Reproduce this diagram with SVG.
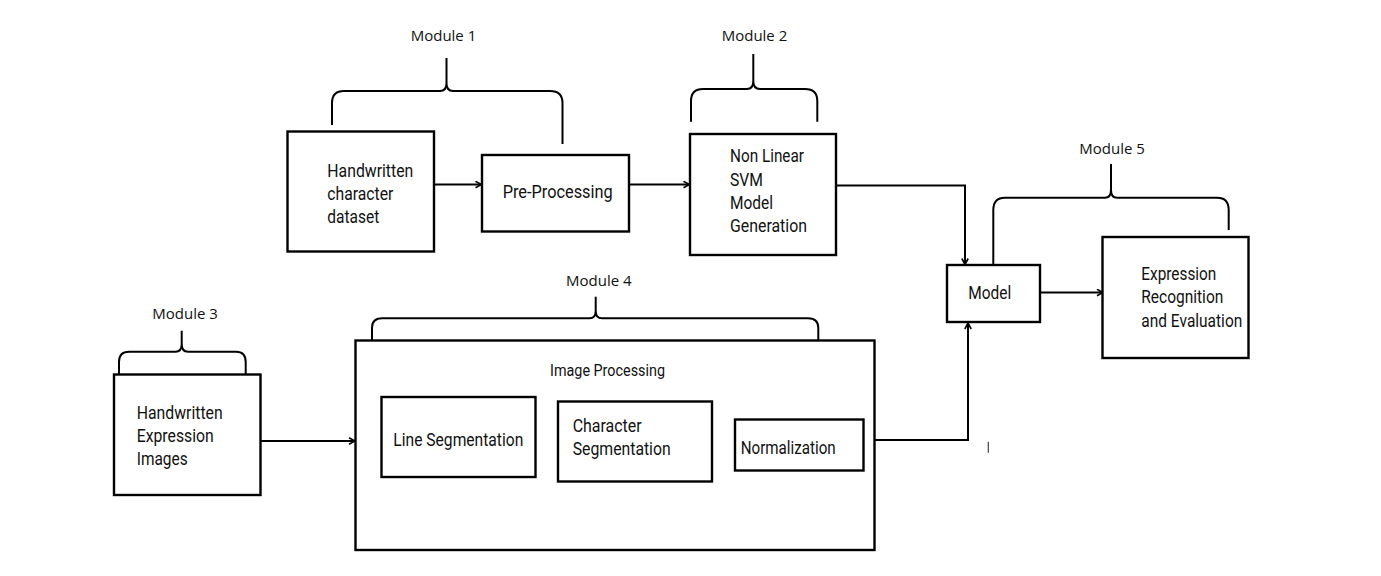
<svg xmlns="http://www.w3.org/2000/svg" width="1381" height="576" viewBox="0 0 1381 576">
<style>
.box{fill:#fff;stroke:#000;stroke-width:2.4}
.t{font-family:Roboto,"Liberation Sans",sans-serif;font-size:19px;fill:#111}
.ts{font-family:Roboto,"Liberation Sans",sans-serif;font-size:16.5px;fill:#111}
.mod{font-family:"Open Sans","Liberation Sans",sans-serif;font-size:15px;fill:#111}
.br{fill:none;stroke:#000;stroke-width:2}
.con{fill:none;stroke:#000;stroke-width:2;marker-end:url(#ah)}
</style>
<defs>
<marker id="ah" viewBox="0 0 8 8" refX="7" refY="4" markerWidth="8" markerHeight="8" markerUnits="userSpaceOnUse" orient="auto">
<path d="M1,0.8 L7,4 L1,7.2" fill="none" stroke="#000" stroke-width="1.6"/>
</marker>
</defs>
<rect width="1381" height="576" fill="#fff"/>

<g id="braces">
<path class="br" d="M332,125 L332,103 Q332,91 344,91 L440,91 Q446.5,91 446.5,83 L446.5,58 M446.5,83 Q446.5,91 453,91 L550,91 Q562.5,91 562.5,103 L562.5,144"/>
<path class="br" d="M691,121.7 L691,101 Q691,89 703,89 L747,89 Q753.3,89 753.3,81 L753.3,54 M753.3,81 Q753.3,89 760,89 L805,89 Q817.3,89 817.3,101 L817.3,121.7"/>
<path class="br" d="M119,374 L119,362 Q119,351.7 129,351.7 L175.5,351.7 Q181.7,351.7 181.7,344 L181.7,330.7 M181.7,344 Q181.7,351.7 188,351.7 L236,351.7 Q245.7,351.7 245.7,362 L245.7,374"/>
<path class="br" d="M372,340 L372,328 Q372,318.3 382,318.3 L589.5,318.3 Q595.7,318.3 595.7,311 L595.7,296.7 M595.7,311 Q595.7,318.3 602,318.3 L808,318.3 Q818.3,318.3 818.3,328 L818.3,340"/>
<path class="br" d="M993.3,265 L993.3,210 Q993.3,197.7 1005,197.7 L1105,197.7 Q1111,197.7 1111,190 L1111,164 M1111,190 Q1111,197.7 1117,197.7 L1217,197.7 Q1228.7,197.7 1228.7,210 L1228.7,230"/>
</g>

<g id="labels">
<text class="mod" x="410.7" y="40.7">Module 1</text>
<text class="mod" x="721.7" y="40.7">Module 2</text>
<text class="mod" x="152.3" y="319.3">Module 3</text>
<text class="mod" x="566" y="286">Module 4</text>
<text class="mod" x="1079.3" y="154">Module 5</text>
</g>

<g id="connectors">
<path class="con" d="M434,184.5 L481.5,184.5"/>
<path class="con" d="M629,184.5 L689.5,184.5"/>
<path class="con" d="M836,185.5 L965,185.5 L965,264.5"/>
<path class="con" d="M1041,292.5 L1103,292.5"/>
<path class="con" d="M260,441 L355,441"/>
<path class="con" d="M875,440 L968,440 L968,323"/>
<path d="M988.3,441.7 L988.3,452.7" stroke="#444" stroke-width="1.2"/>
</g>

<g id="n1">
<rect class="box" x="287.5" y="131.5" width="146.5" height="120"/>
<text class="t" x="327.3" y="176.7" textLength="86" lengthAdjust="spacingAndGlyphs">Handwritten</text>
<text class="t" x="327.3" y="200" textLength="66" lengthAdjust="spacingAndGlyphs">character</text>
<text class="t" x="327.3" y="222.7" textLength="52" lengthAdjust="spacingAndGlyphs">dataset</text>
</g>

<g id="n2">
<rect class="box" x="482" y="155" width="147" height="76.5"/>
<text class="t" x="502.7" y="198.3" textLength="110" lengthAdjust="spacingAndGlyphs">Pre-Processing</text>
</g>

<g id="n3">
<rect class="box" x="690" y="134" width="146" height="121"/>
<text class="t" x="730" y="162.3" textLength="74" lengthAdjust="spacingAndGlyphs">Non Linear</text>
<text class="t" x="730" y="185.7" textLength="33" lengthAdjust="spacingAndGlyphs">SVM</text>
<text class="t" x="730" y="208.7" textLength="43" lengthAdjust="spacingAndGlyphs">Model</text>
<text class="t" x="730" y="231.7" textLength="77" lengthAdjust="spacingAndGlyphs">Generation</text>
</g>

<g id="n4">
<rect class="box" x="947" y="265" width="93" height="57"/>
<text class="t" x="968.3" y="299.3" textLength="43" lengthAdjust="spacingAndGlyphs">Model</text>
</g>

<g id="n5">
<rect class="box" x="1102.5" y="237" width="146" height="121"/>
<text class="t" x="1141.3" y="280" textLength="75" lengthAdjust="spacingAndGlyphs">Expression</text>
<text class="t" x="1141.3" y="303.3" textLength="82" lengthAdjust="spacingAndGlyphs">Recognition</text>
<text class="t" x="1141.3" y="326.7" textLength="101" lengthAdjust="spacingAndGlyphs">and Evaluation</text>
</g>

<g id="n6">
<rect class="box" x="114" y="374.5" width="146.5" height="120.5"/>
<text class="t" x="136.7" y="419.3" textLength="86" lengthAdjust="spacingAndGlyphs">Handwritten</text>
<text class="t" x="136.7" y="441.7" textLength="77" lengthAdjust="spacingAndGlyphs">Expression</text>
<text class="t" x="136.7" y="465" textLength="51" lengthAdjust="spacingAndGlyphs">Images</text>
</g>

<g id="n7">
<rect class="box" x="355.5" y="340.5" width="519" height="209.5"/>
<text class="ts" x="550" y="376" textLength="115" lengthAdjust="spacingAndGlyphs">Image Processing</text>
</g>

<g id="n8">
<rect class="box" x="381.5" y="397" width="154" height="80"/>
<text class="t" x="393.3" y="445.7" textLength="130" lengthAdjust="spacingAndGlyphs">Line Segmentation</text>
</g>

<g id="n9">
<rect class="box" x="558" y="401.5" width="154" height="80"/>
<text class="t" x="572.7" y="431.7" textLength="69" lengthAdjust="spacingAndGlyphs">Character</text>
<text class="t" x="572.7" y="455" textLength="98" lengthAdjust="spacingAndGlyphs">Segmentation</text>
</g>

<g id="n10">
<rect class="box" x="735" y="419.5" width="128.5" height="51"/>
<text class="t" x="740.7" y="454.3" textLength="95" lengthAdjust="spacingAndGlyphs">Normalization</text>
</g>
</svg>
